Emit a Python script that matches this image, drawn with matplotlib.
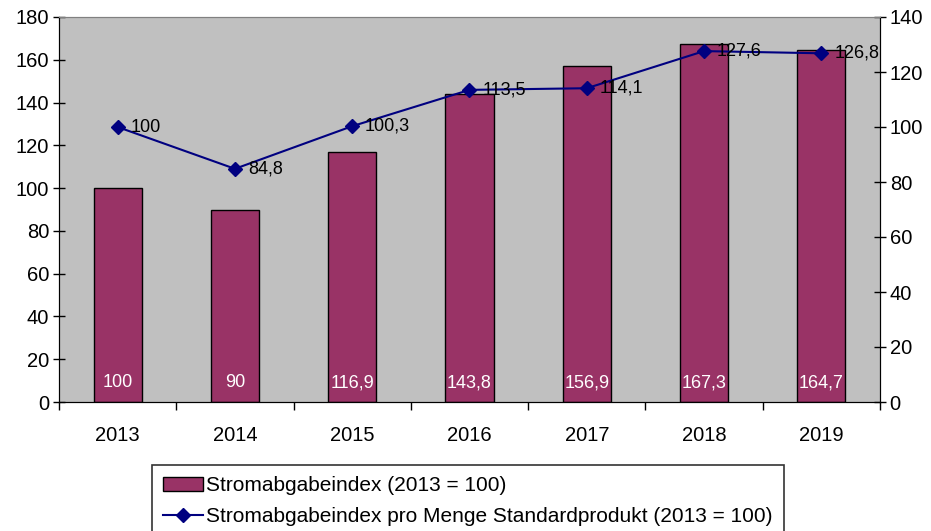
import matplotlib
matplotlib.use("Agg")
import matplotlib.pyplot as plt
import numpy as np

plt.rcParams['font.family'] = ['Liberation Sans', 'DejaVu Sans']

# Daten
jahre = ["2013", "2014", "2015", "2016", "2017", "2018", "2019"]
stromabgabe = [100, 90, 116.9, 143.8, 156.9, 167.3, 164.7]
pro_menge = [100, 84.8, 100.3, 113.5, 114.1, 127.6, 126.8]

def de_zahl(v):
    s = f"{v:g}"
    return s.replace(".", ",")

fig = plt.figure(figsize=(9.31, 5.31), dpi=100)
ax = fig.add_axes([59/931, 1 - 402/531, (880-59)/931, (402-17)/531])
ax.set_facecolor("#C0C0C0")

x = np.arange(len(jahre))
ax.bar(x, stromabgabe, width=0.41, color="#993366", edgecolor="black", linewidth=1,
       label="Stromabgabeindex (2013 = 100)", zorder=2)
for xi, v in zip(x, stromabgabe):
    ax.text(xi, 9, de_zahl(v), color="white", ha="center", va="center", fontsize=13, zorder=3)

ax.set_xlim(-0.5, len(jahre) - 0.5)
ax.set_ylim(0, 180)
ax.set_yticks(range(0, 181, 20))
ax.set_xticks(x)
ax.set_xticklabels(jahre)
ax.set_xticks(np.arange(-0.5, len(jahre)), minor=True)
ax.tick_params(axis="x", which="major", length=0, pad=17, labelsize=14.5)
ax.tick_params(axis="x", which="minor", length=6, width=1, direction="out")
ax.tick_params(axis="y", length=8, width=1, direction="inout", labelsize=14.5, pad=3)

ax2 = ax.twinx()
ax2.plot(x, pro_menge, color="#000080", marker="D", markersize=7, linewidth=1.5,
         label="Stromabgabeindex pro Menge Standardprodukt (2013 = 100)", zorder=4)
for xi, v in zip(x, pro_menge):
    ax2.text(xi + 0.11, v, de_zahl(v), color="black", ha="left", va="center", fontsize=13, zorder=5)
ax2.set_ylim(0, 140)
ax2.set_yticks(range(0, 141, 20))
ax2.tick_params(axis="y", length=8, width=1, direction="inout", labelsize=14.5, pad=3)

for a in (ax, ax2):
    a.spines["top"].set_color("#808080")
    a.spines["left"].set_color("black")
    a.spines["right"].set_color("black")
    a.spines["bottom"].set_color("black")

h1, l1 = ax.get_legend_handles_labels()
h2, l2 = ax2.get_legend_handles_labels()
leg = fig.legend(h1 + h2, l1 + l2, loc="upper left", bbox_to_anchor=(152/931, 1 - 465/531),
                 fontsize=15, frameon=True, fancybox=False, edgecolor="black",
                 handlelength=1.9, handletextpad=0.12, borderpad=0.55, labelspacing=0.55,
                 borderaxespad=0)
leg.get_frame().set_linewidth(1.2)

fig.savefig("out.png", dpi=100)
